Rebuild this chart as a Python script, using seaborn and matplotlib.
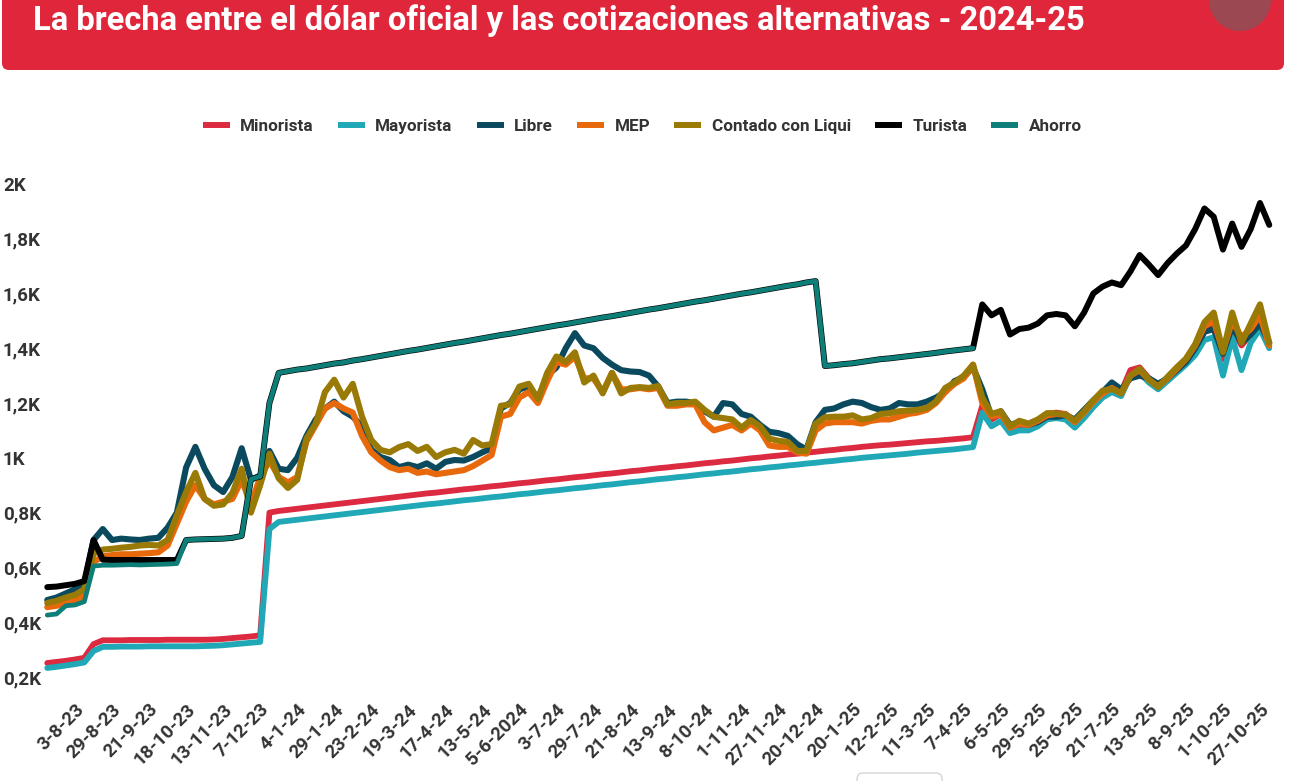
import numpy as np
import pandas as pd
import matplotlib
matplotlib.use("Agg")
import matplotlib.pyplot as plt
from matplotlib.patches import FancyBboxPatch, Circle
from matplotlib.lines import Line2D
import seaborn as sns

titulo = "La brecha entre el dólar oficial y las cotizaciones alternativas - 2024-25"

# etiquetas del eje x (una cada ~17 ruedas)
fechas = ["3-8-23", "29-8-23", "21-9-23", "18-10-23", "13-11-23", "7-12-23",
          "4-1-24", "29-1-24", "23-2-24", "19-3-24", "17-4-24", "13-5-24",
          "5-6-2024", "3-7-24", "29-7-24", "21-8-24", "13-9-24", "8-10-24",
          "1-11-24", "27-11-24", "20-12-24", "20-1-25", "12-2-25", "11-3-25",
          "7-4-25", "6-5-25", "29-5-25", "25-6-25", "21-7-25", "13-8-25",
          "8-9-25", "1-10-25", "27-10-25"]

# valores: 4 muestras por intervalo de etiqueta,
# la primera 0,75 intervalos antes de "3-8-23"
muestras_por_tick = 4
inicio = -0.75

minorista = [251, 255, 259, 264, 270,
             320, 334, 334, 334, 335, 335, 335, 335, 336, 336,
             336, 336, 336, 337, 339, 342, 345, 348, 352,
             800, 806, 810, 814, 818, 822, 826, 830, 834, 838,
             842, 846, 850, 854, 858, 862, 866, 870, 873, 877,
             881, 885, 888, 892, 896, 899, 903, 907, 910, 914,
             918, 921, 925, 929, 932, 936, 940, 943, 947, 951,
             954, 958, 962, 965, 969, 972, 976, 980, 983, 987,
             990, 994, 998, 1001, 1005, 1008, 1012, 1015, 1019, 1022,
             1026, 1029, 1033, 1036, 1040, 1043, 1046, 1048, 1051, 1054,
             1057, 1060, 1062, 1065, 1068, 1071, 1075,
             1190, 1140, 1160, 1110, 1120, 1115, 1130, 1160, 1165, 1160,
             1135, 1160, 1200, 1230, 1255, 1240, 1320, 1330, 1290, 1265,
             1290, 1325, 1355, 1400, 1460, 1480, 1360, 1470, 1410, 1450,
             1490, 1420]

mayorista = [233, 237, 242, 247, 253,
             295, 310, 310, 311, 311, 311, 312, 312, 312, 312,
             312, 312, 313, 314, 316, 319, 322, 325, 328,
             740, 766, 770, 774, 778, 782, 786, 790, 794, 798,
             802, 806, 810, 814, 818, 822, 826, 830, 833, 837,
             841, 845, 848, 852, 856, 859, 863, 867, 870, 874,
             878, 881, 885, 889, 892, 896, 900, 903, 907, 911,
             914, 918, 922, 925, 929, 932, 936, 940, 943, 947,
             950, 954, 958, 961, 965, 968, 972, 975, 979, 982,
             986, 989, 993, 996, 1000, 1003, 1006, 1009, 1012, 1015,
             1019, 1022, 1025, 1028, 1031, 1035, 1039,
             1165, 1115, 1135, 1090, 1100, 1100, 1115, 1140, 1145, 1140,
             1110, 1145, 1185, 1220, 1240, 1225, 1300, 1310, 1275, 1250,
             1280, 1310, 1340, 1375, 1430, 1440, 1300, 1440, 1320, 1420,
             1470, 1400]

libre = [481, 490, 505, 520, 540, 700, 740, 700, 705, 702, 700, 705, 708, 745, 800,
         965, 1040, 960, 900, 875, 930, 1035, 920, 935, 1025,
         960, 955, 1000, 1080, 1140, 1180, 1205, 1170, 1150, 1115,
         1030, 1003, 992, 966, 975, 966,
         980, 960, 985, 992, 990, 1003, 1020, 1035, 1180, 1200,
         1250, 1260, 1215, 1300, 1330, 1400, 1455, 1410, 1400, 1365,
         1340, 1320, 1315, 1313, 1300, 1260, 1200, 1205, 1205, 1200,
         1170, 1150, 1200, 1195, 1160, 1150, 1120, 1095, 1090, 1080,
         1050, 1030, 1130, 1175, 1180, 1195, 1205, 1200, 1185, 1175,
         1180, 1200, 1195, 1195, 1205, 1220, 1240, 1280, 1295, 1330,
         1250, 1150, 1170, 1120, 1130, 1120, 1130, 1150, 1150, 1155,
         1140, 1175, 1210, 1240, 1275, 1250, 1290, 1300, 1290, 1270,
         1290, 1320, 1350, 1400, 1460, 1470, 1380, 1480, 1420, 1450,
         1490, 1420]

mep = [455, 460, 470, 480, 495, 620, 640, 645, 648, 648, 650, 652, 655, 680, 760,
       840, 900, 850, 830, 840, 850, 920, 830, 930, 990,
       930, 910, 930, 1060, 1120, 1180, 1200, 1180, 1165, 1080,
       1020, 990, 966, 955, 960, 945,
       950, 940, 945, 950, 955, 970, 990, 1010, 1150, 1160,
       1220, 1240, 1200, 1280, 1350, 1340, 1370, 1290, 1290, 1240,
       1310, 1250, 1250, 1255, 1250, 1255, 1190, 1190, 1195, 1195,
       1130, 1100, 1110, 1120, 1100, 1125, 1100, 1045, 1040, 1040,
       1020, 1015, 1100, 1125, 1130, 1130, 1130, 1125, 1135, 1140,
       1140, 1150, 1160, 1165, 1175, 1200, 1240, 1270, 1290, 1340,
       1200, 1150, 1160, 1110, 1125, 1120, 1135, 1155, 1160, 1158,
       1130, 1165, 1205, 1235, 1255, 1235, 1300, 1320, 1285, 1260,
       1290, 1325, 1360, 1410, 1480, 1500, 1390, 1500, 1440, 1470,
       1520, 1410]

ccl = [470, 478, 490, 500, 520, 650, 665, 668, 672, 675, 680, 682, 680, 700, 790,
       875, 945, 850, 825, 830, 872, 960, 800, 900, 1015,
       925, 890, 920, 1070, 1125, 1240, 1285, 1220, 1270, 1150,
       1065, 1029, 1020, 1039, 1050, 1025,
       1040, 1003, 1020, 1029, 1015, 1065, 1045, 1050, 1190, 1195,
       1260, 1270, 1215, 1310, 1370, 1350, 1385, 1275, 1300, 1235,
       1310, 1235, 1255, 1258, 1255, 1262, 1195, 1200, 1200, 1205,
       1175, 1150, 1145, 1140, 1110, 1138, 1115, 1070, 1062, 1058,
       1025, 1025, 1125, 1148, 1150, 1150, 1155, 1140, 1145, 1160,
       1163, 1170, 1172, 1175, 1182, 1205, 1255, 1275, 1300, 1340,
       1220, 1160, 1170, 1115, 1135, 1125, 1140, 1163, 1162, 1158,
       1135, 1170, 1210, 1245, 1252, 1235, 1300, 1325, 1285, 1258,
       1295, 1330, 1362, 1415, 1495, 1530, 1385, 1530, 1420, 1490,
       1560, 1419]

ahorro = [426, 430, 460, 463, 475, 605, 608, 608, 609, 610, 609, 610, 611, 612, 614,
          700, 702, 703, 704, 705, 708, 715, 922, 932,
          1200, 1310, 1316, 1322, 1326, 1332, 1338, 1344, 1348, 1355,
          1360, 1366, 1372, 1378, 1384, 1390, 1395, 1401, 1407, 1413,
          1419, 1424, 1430, 1436, 1442, 1448, 1453, 1459, 1465, 1471,
          1477, 1483, 1488, 1494, 1500, 1506, 1512, 1517, 1523, 1529,
          1535, 1541, 1546, 1552, 1558, 1564, 1570, 1575, 1581, 1587,
          1593, 1599, 1604, 1610, 1616, 1622, 1628, 1633, 1640, 1645,
          1335, 1338, 1342, 1345, 1350, 1355, 1360, 1363, 1367, 1371,
          1375, 1379, 1383, 1388, 1392, 1396, 1400] + [np.nan] * 32

# el turista coincide con el ahorro entre oct-23 y abr-25
turista_inicio = [528, 530, 535, 540, 550, 700, 628, 627, 627, 627, 627, 627, 627, 627, 627]
turista_final = [1560, 1520, 1540, 1450, 1470, 1475, 1490, 1520, 1525, 1520,
                 1480, 1530, 1600, 1625, 1640, 1630, 1680, 1740, 1705, 1667,
                 1710, 1745, 1775, 1835, 1910, 1880, 1760, 1855, 1770, 1835,
                 1930, 1850]
turista = turista_inicio + ahorro[15:101] + turista_final

series = {"Minorista": minorista, "Mayorista": mayorista, "Libre": libre,
          "MEP": mep, "Contado con Liqui": ccl, "Turista": turista, "Ahorro": ahorro}
colores = {"Minorista": "#DC2A40", "Mayorista": "#20A8B7", "Libre": "#0B4A5E",
           "MEP": "#E8680C", "Contado con Liqui": "#9A7A06", "Turista": "#000000",
           "Ahorro": "#0E7E78"}
grosor = {"Minorista": 4.2, "Mayorista": 4.2, "Libre": 4.4, "MEP": 4.4,
          "Contado con Liqui": 4.4, "Turista": 4.3, "Ahorro": 3.4}

n = len(minorista)
pos = inicio + np.arange(n) / muestras_por_tick
data = []
for nombre, valores in series.items():
    assert len(valores) == n, (nombre, len(valores))
    for p, v in zip(pos, valores):
        data.append([nombre, p, v])
df = pd.DataFrame(data, columns=["serie", "pos", "valor"]).dropna()

sns.set_theme(style="white")
fuente = ["Roboto", "DejaVu Sans"]
plt.rcParams["font.family"] = fuente
gris = "#333333"

fig = plt.figure(figsize=(13, 7.81), dpi=100)

# fondo con la cabecera roja
fondo = fig.add_axes([0, 0, 1, 1], zorder=0)
fondo.set_xlim(0, 1300)
fondo.set_ylim(781, 0)
fondo.axis("off")
fondo.add_patch(FancyBboxPatch((2, -30), 1282, 100, boxstyle="round,pad=0,rounding_size=7",
                               fc="#E0263B", ec="none"))
fondo.add_patch(Circle((1240, 0), 31, fc="#9C4853", ec="none"))
fondo.add_patch(FancyBboxPatch((857, 773), 85, 30, boxstyle="round,pad=0,rounding_size=6",
                               fc="white", ec="#d5d5d5", lw=1))
fondo.text(33, 21, titulo, color="white", fontsize=23.6, fontweight="bold",
           family=fuente, va="center", ha="left")

ax = fig.add_axes([0.03208, 0.11562, 0.94854, 0.65954], zorder=1)
ax.patch.set_alpha(0)
for nombre in series:
    sub = df[df["serie"] == nombre]
    sns.lineplot(data=sub, x="pos", y="valor", color=colores[nombre], linewidth=grosor[nombre],
                 estimator=None, sort=False, legend=False, ax=ax)
for linea in ax.lines:
    linea.set_solid_joinstyle("round")
    linea.set_solid_capstyle("round")

ax.set_xlim(-0.9, 32.4)
ax.set_ylim(150, 2030)
ax.set_xlabel("")
ax.set_ylabel("")
sns.despine(ax=ax, left=True, bottom=True)
ax.grid(False)

ax.set_xticks(range(len(fechas)))
ax.set_xticklabels(fechas, rotation=45, ha="right", va="top", rotation_mode="anchor",
                   fontsize=13.5, fontweight="bold", color=gris)
yt = list(range(200, 2001, 200))
ax.set_yticks(yt)
ax.set_yticklabels([("%g" % (v / 1000)).replace(".", ",") + "K" for v in yt],
                   fontsize=13.5, fontweight="bold", color=gris)
for lab in ax.get_yticklabels():
    lab.set_ha("left")
ax.tick_params(axis="y", length=0, pad=27.9)
ax.tick_params(axis="x", length=0, pad=7)

handles = [Line2D([], [], color=colores[s], lw=4.3, solid_capstyle="butt") for s in series]
fig.legend(handles, list(series.keys()), loc="center", bbox_to_anchor=(0.494, 0.838), ncol=7,
           frameon=False, handlelength=1.6, handletextpad=0.6, columnspacing=1.4,
           prop={"family": fuente, "weight": "bold", "size": 12.3}, labelcolor=gris)

fig.savefig("out.png", dpi=100)
